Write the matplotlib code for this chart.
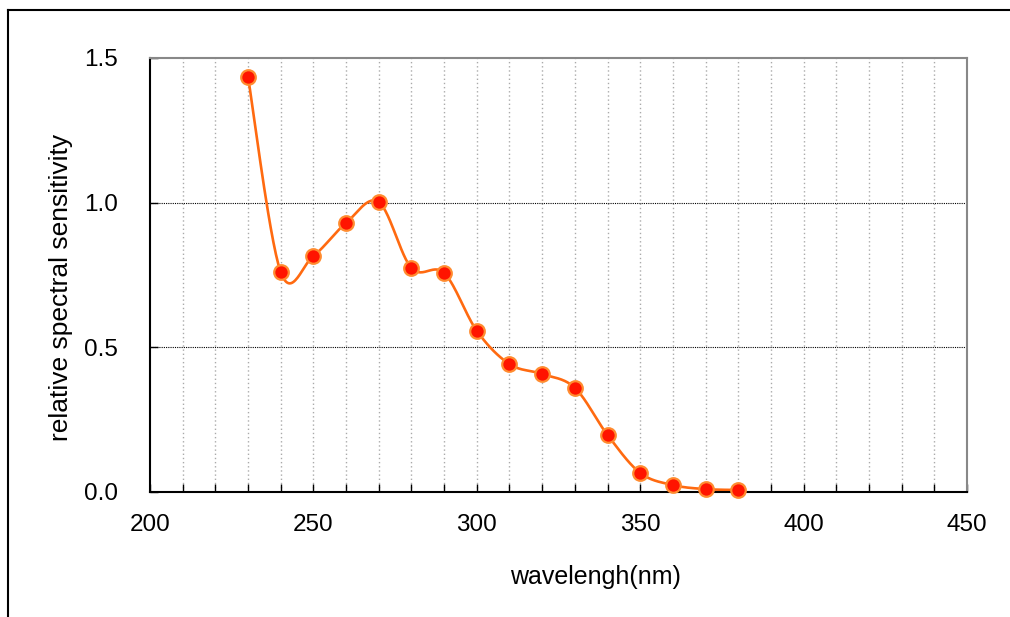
import numpy as np
import matplotlib
matplotlib.use("Agg")
from matplotlib import pyplot as plt
from matplotlib.lines import Line2D

# measured points
wavelength = [230, 240, 250, 260, 270, 280, 290, 300, 310, 320, 330, 340, 350, 360, 370, 380]
sensitivity = [1.434, 0.760, 0.816, 0.930, 1.002, 0.774, 0.757, 0.557, 0.442, 0.408,
               0.360, 0.197, 0.066, 0.024, 0.010, 0.007]
x_ticks = [200, 250, 300, 350, 400, 450]
y_ticks = [0.0, 0.5, 1.0, 1.5]
y_tick_labels = ["0.0", "0.5", "1.0", "1.5"]


def smooth_curve(xs, ys, n=30):
    # Catmull-Rom style bezier smoothing, like a spreadsheet "smoothed line"
    xs = np.asarray(xs, float)
    ys = np.asarray(ys, float)
    px = np.concatenate([[xs[0]], xs, [xs[-1]]])
    py = np.concatenate([[ys[0]], ys, [ys[-1]]])
    out_x, out_y = [], []
    t = np.linspace(0, 1, n)
    for i in range(1, len(px) - 2):
        p0 = np.array([px[i], py[i]])
        p3 = np.array([px[i + 1], py[i + 1]])
        c1 = p0 + (np.array([px[i + 1], py[i + 1]]) - np.array([px[i - 1], py[i - 1]])) / 6
        c2 = p3 - (np.array([px[i + 2], py[i + 2]]) - np.array([px[i], py[i]])) / 6
        b = ((1 - t) ** 3)[:, None] * p0 + (3 * (1 - t) ** 2 * t)[:, None] * c1 \
            + (3 * (1 - t) * t ** 2)[:, None] * c2 + (t ** 3)[:, None] * p3
        out_x.extend(b[:, 0])
        out_y.extend(b[:, 1])
    return out_x, out_y


plt.rcParams['font.family'] = ['Liberation Sans', 'DejaVu Sans']

fig = plt.figure(figsize=(10.10, 6.17), dpi=100)
ax = fig.add_axes([150 / 1010, 1 - 492 / 617, 817 / 1010, 434 / 617])

# grid
for xv in range(210, 450, 10):
    ax.axvline(xv, color="#aaaaaa", linestyle=(0, (1, 2)), linewidth=1.0, zorder=1)
for yv in [0.5, 1.0]:
    ax.axhline(yv, color="black", linestyle=(0, (1, 1)), linewidth=0.8, zorder=1)

sx, sy = smooth_curve(wavelength, sensitivity)
ax.plot(sx, sy, color="#ff6a10", linewidth=1.9, zorder=2)
ax.plot(wavelength, sensitivity, linestyle="none", marker="o", markersize=10.5,
        markerfacecolor="#ff1400", markeredgecolor="#ff8c30", markeredgewidth=1.6, zorder=3,
        clip_on=False)

ax.set_xlim(200, 450)
ax.set_ylim(0, 1.5)
ax.set_xticks(x_ticks)
ax.set_xticks(range(200, 451, 10), minor=True)
ax.set_yticks(y_ticks)
ax.set_yticklabels(y_tick_labels)
ax.tick_params(axis="x", which="both", direction="in", length=6, width=1, labelsize=17.5, pad=16)
ax.tick_params(axis="y", which="major", direction="in", length=6, width=1, labelsize=17.5, pad=23)
ax.tick_params(top=False, right=False)

ax.spines["left"].set_linewidth(1.5)
ax.spines["bottom"].set_linewidth(1.5)
ax.spines["top"].set_color("#888888")
ax.spines["right"].set_color("#888888")
ax.spines["top"].set_linewidth(1.5)
ax.spines["right"].set_linewidth(1.5)

ax.set_xlabel("wavelengh(nm)", fontsize=18)
ax.set_ylabel("relative spectral sensitivity", fontsize=19)
ax.xaxis.set_label_coords(0.545, -0.168)
ax.yaxis.set_label_coords(-0.094, 0.472)

# outer frame (cropped: only top and left edges visible)
fig.add_artist(Line2D([8 / 1010, 1.0], [1 - 10 / 617, 1 - 10 / 617], color="black", linewidth=1.5))
fig.add_artist(Line2D([8 / 1010, 8 / 1010], [0.0, 1 - 10 / 617], color="black", linewidth=1.5))

fig.savefig("out.png", dpi=100)
